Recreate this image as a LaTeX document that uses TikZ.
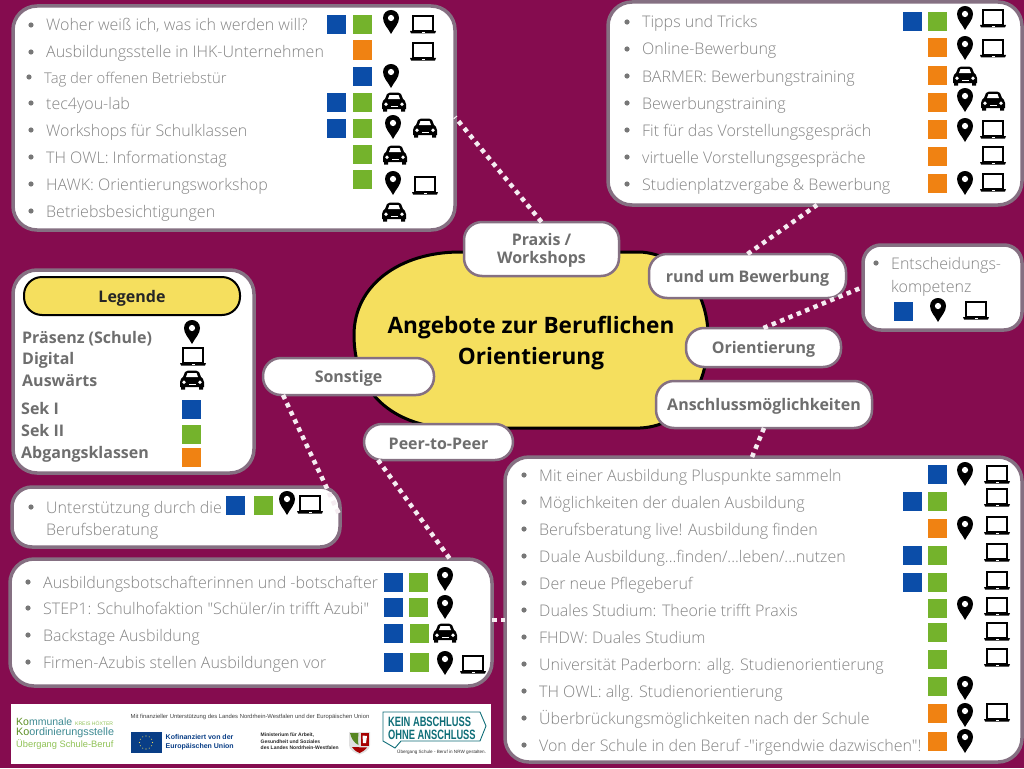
\documentclass[tikz,border=0pt]{standalone}
\usepackage{fontspec}
\setmainfont{Open Sans}
\newfontfamily\lightfont{Open Sans Light}
\newfontfamily\logofont{Liberation Sans}
\usetikzlibrary{calc}
\definecolor{bgc}{HTML}{850C4F}
\definecolor{edgec}{HTML}{857082}
\definecolor{yel}{HTML}{F5DF5E}
\definecolor{bluec}{HTML}{0B4DA8}
\definecolor{greenc}{HTML}{74B32C}
\definecolor{orangec}{HTML}{F08212}
\definecolor{txt}{HTML}{848484}
\definecolor{boldtxt}{HTML}{6E6E6E}
\definecolor{tealc}{HTML}{0F6E78}
\tikzset{
  x=1pt,y=-1pt,
  panel/.style={draw=edgec,line width=3.5pt,fill=white,rounded corners=#1,inner sep=0pt,outer sep=0pt,anchor=north west},
  panel/.default=24pt,
  pill/.style={draw=edgec,line width=2.5pt,fill=white,rounded corners=18pt,inner sep=0pt,outer sep=0pt,align=center,
     font=\fontsize{16}{18}\selectfont\bfseries,text=boldtxt},
  rowtext/.style={anchor=west,inner sep=0pt,text height=13.5pt,text depth=1.5pt,font=\lightfont\fontsize{16}{18}\selectfont,text=txt},
  legtext/.style={anchor=west,inner sep=0pt,text height=13.5pt,text depth=1.5pt,font=\fontsize{16}{18}\selectfont\bfseries,text=boldtxt},
  link/.style={draw=white!92!bgc,line width=4.5pt,dash pattern=on 4.5pt off 4.5pt},
  sq/.style={fill=#1,minimum size=19pt,inner sep=0pt,draw=none},
}
\newcommand{\PIN}[2]{\begin{scope}[shift={(#1,#2)}]
  \fill[black] (0,12) .. controls (-3,6) and (-8,2) .. (-8,-4) .. controls (-8,-9) and (-4,-12) .. (0,-12) .. controls (4,-12) and (8,-9) .. (8,-4) .. controls (8,2) and (3,6) .. (0,12) -- cycle;
  \fill[white] (0,-4) circle[radius=3.1];
\end{scope}}
\newcommand{\LAP}[2]{\begin{scope}[shift={(#1,#2)}]
  \draw[black,line width=1.3pt,fill=white] (-10,-9) rectangle (10,6);
  \fill[black] (-13,6) -- (13,6) -- (12,8.5) -- (-12,8.5) -- cycle;
  \fill[white] (-1.5,6.8) rectangle (1.5,7.8);
\end{scope}}
\newcommand{\CAR}[2]{\begin{scope}[shift={(#1,#2)}]
  \fill[black] (-12,2) .. controls (-12,-1) and (-10,-2) .. (-9,-3) -- (-7,-8) .. controls (-6,-9) and (-5,-9.5) .. (-4,-9.5) -- (4,-9.5) .. controls (5,-9.5) and (6,-9) .. (7,-8) -- (9,-3) .. controls (10,-2) and (12,-1) .. (12,2) -- (12,7) -- (11,7) -- (11,9.5) -- (7,9.5) -- (7,7) -- (-7,7) -- (-7,9.5) -- (-11,9.5) -- (-11,7) -- (-12,7) -- cycle;
  \fill[white] (-6,-3) -- (-4.5,-7) -- (4.5,-7) -- (6,-3) -- cycle;
  \fill[white] (-8,2.2) circle[radius=1.9] (8,2.2) circle[radius=1.9];
  \fill[white] (-3.5,4) rectangle (3.5,5.2);
\end{scope}}
\newcommand{\ROW}[4]{\fill[txt!90!black] (#1-15,#2) circle[radius=2.6];\node[rowtext] (#3) at (#1,#2) {#4};}
\newcommand{\BQ}[2]{\node[sq=bluec] at (#1,#2) {};}
\newcommand{\GQ}[2]{\node[sq=greenc] at (#1,#2) {};}
\newcommand{\OQ}[2]{\node[sq=orangec] at (#1,#2) {};}
\newcommand{\PL}[1]{\raisebox{-2pt}[\height][\depth]{#1}}
\begin{document}
\begin{tikzpicture}
\useasboundingbox (0,0) rectangle (1024,768);
\fill[bgc] (0,0) rectangle (1024,768);

% panels
\node[panel,minimum width=442pt,minimum height=224pt] (box1) at (13,6) {};
\node[panel,minimum width=414pt,minimum height=203pt] (box2) at (608,2) {};
\node[panel=18pt,minimum width=159pt,minimum height=85pt] (box3) at (863,245) {};
\node[panel,minimum width=241pt,minimum height=203pt] (legend) at (13,270) {};
\node[panel=20pt,minimum width=328pt,minimum height=60pt] (box4) at (12,487) {};
\node[panel,minimum width=482pt,minimum height=127pt] (box5) at (10,559) {};
\node[panel,minimum width=517pt,minimum height=305pt] (box6) at (505,457) {};

% central blob
\draw[black,line width=3pt,fill=yel] (460,252) -- (640,252)
  .. controls (680,254) and (706,290) .. (708,332)
  .. controls (710,375) and (690,426) .. (640,428)
  -- (445,428) .. controls (395,424) and (354,395) .. (354,335)
  .. controls (354,285) and (400,252) .. (460,252) -- cycle;
\node[inner sep=0pt,align=center,font=\fontsize{22.6}{31}\selectfont\bfseries,text=black] (title) at (531,343.5) {Angebote zur Beruflichen\\Orientierung};

% pills
\node[pill,minimum width=155pt,minimum height=54pt] (praxis) at (541.5,249) {\PL{\begin{tabular}{@{}c@{}}Praxis /\\Workshops\end{tabular}}};
\node[pill,minimum width=197pt,minimum height=44pt] (bewerb) at (747.5,276) {\PL{rund um Bewerbung}};
\node[pill,minimum width=155pt,minimum height=39pt] (orient) at (763.5,347.5) {\PL{Orientierung}};
\node[pill,minimum width=216pt,minimum height=47pt] (ansch) at (764,404.5) {\PL{Anschlussmöglichkeiten}};
\node[pill,minimum width=171pt,minimum height=37pt] (sonst) at (348.5,376.5) {\PL{Sonstige}};
\node[pill,minimum width=149pt,minimum height=36pt] (peer) at (438.5,442) {\PL{Peer-to-Peer}};

% connectors
\path[link] (praxis.north) -- (box1.east |- 0,117);
\path[link] (bewerb.north) -- (box2.south west -| 817,0);
\path[link] (orient.north) -- (box3.west |- 0,287);
\path[link] (ansch.south) -- (box6.north west -| 752,0);
\path[link] (sonst.south west -| 283,0) -- (box4.east |- 0,516);
\path[link] (peer.south west -| 378,0) -- (box5.north west -| 450,0);
\path[link] (box5.east |- 0,620) -- (box6.west |- 0,620);

% box 1
\ROW{46}{25}{a1}{Woher weiß ich, was ich werden will?}
\ROW{46}{52}{a2}{Ausbildungsstelle in IHK-Unternehmen}
\ROW{44}{77}{a3}{\fontsize{14.8}{18}\selectfont Tag der offenen Betriebstür}
\ROW{46}{103}{a4}{tec4you-lab}
\ROW{46}{130}{a5}{Workshops für Schulklassen}
\ROW{46}{157}{a6}{TH OWL: Informationstag}
\ROW{46}{184}{a7}{HAWK: Orientierungsworkshop}
\ROW{46}{211}{a8}{Betriebsbesichtigungen}
\BQ{336.5}{24.5}\GQ{362}{24.5}\PIN{391}{22}\LAP{423}{25}
\OQ{362}{50}\LAP{423}{52}
\BQ{362}{76}\PIN{391}{76}
\BQ{336.5}{102}\GQ{362}{102}\CAR{394}{102}
\BQ{336.5}{128}\GQ{362}{128}\PIN{393}{127}\CAR{425}{128}
\GQ{362}{154}\CAR{395}{155}
\GQ{362}{179}\PIN{393}{183}\LAP{425}{186}
\CAR{394}{212}

% box 2
\ROW{642}{22}{b1}{Tipps und Tricks}
\ROW{642}{49}{b2}{Online-Bewerbung}
\ROW{642}{76}{b3}{BARMER: Bewerbungstraining}
\ROW{642}{103}{b4}{Bewerbungstraining}
\ROW{642}{130}{b5}{Fit für das Vorstellungsgespräch}
\ROW{642}{157}{b6}{virtuelle Vorstellungsgespräche}
\ROW{642}{184}{b7}{Studienplatzvergabe \& Bewerbung}
\BQ{912}{22}\GQ{937}{22}\PIN{965}{18}\LAP{993}{19}
\OQ{937}{48}\PIN{965}{48}\LAP{993}{49}
\OQ{937}{75}\CAR{965}{76}
\OQ{937}{102}\PIN{965}{100}\CAR{993}{101}
\OQ{937}{129}\PIN{965}{130}\LAP{993}{130}
\OQ{937}{156}\LAP{993}{156}
\OQ{937}{183}\PIN{965}{183}\LAP{993}{183}

% box 3
\ROW{891}{263}{c1}{Entscheidungs-}
\node[rowtext] (c2) at (891,286) {kompetenz};
\BQ{903}{311}\PIN{938}{310}\LAP{976}{311}

% legend
\node[draw=black,line width=2pt,fill=yel,rounded corners=18pt,minimum width=216pt,minimum height=38pt,inner sep=0pt,font=\fontsize{16}{18}\selectfont\bfseries,text=black!85] (legtitle) at (132,296) {\PL{Legende}};
\node[legtext] (l1) at (22,337) {Präsenz (Schule)};
\node[legtext] (l2) at (22,358) {Digital};
\node[legtext] (l3) at (22,380) {Auswärts};
\node[legtext] (l4) at (21,408) {Sek I};
\node[legtext] (l5) at (21,430) {Sek II};
\node[legtext] (l6) at (21,452) {Abgangsklassen};
\PIN{192}{332}\LAP{193}{357}\CAR{192}{380}
\BQ{191}{409}\GQ{191}{434}\OQ{191}{457}

% box 4
\ROW{46}{507}{d1}{Unterstützung durch die}
\node[rowtext] (d2) at (46,529) {Berufsberatung};
\BQ{235}{505}\GQ{263}{505}\PIN{287}{503}\LAP{310}{505}

% box 5
\ROW{43}{582}{e1}{Ausbildungsbotschafterinnen und -botschafter}
\ROW{43}{608}{e2}{STEP1: Schulhofaktion "Schüler/in trifft Azubi"}
\ROW{43}{635}{e3}{Backstage Ausbildung}
\ROW{43}{662}{e4}{Firmen-Azubis stellen Ausbildungen vor}
\BQ{393}{582}\GQ{418}{582}\PIN{445}{579}
\BQ{393}{607}\GQ{418}{607}\PIN{445}{607}
\BQ{393}{633}\GQ{419}{633}\CAR{445}{633}
\BQ{393}{662}\GQ{419}{662}\PIN{445}{663}\LAP{473}{665}

% box 6
\ROW{539}{475}{f1}{Mit einer Ausbildung Pluspunkte sammeln}
\ROW{539}{502}{f2}{Möglichkeiten der dualen Ausbildung}
\ROW{539}{529}{f3}{Berufsberatung live! Ausbildung finden}
\ROW{539}{556}{f4}{Duale Ausbildung...finden/...leben/...nutzen}
\ROW{539}{583}{f5}{Der neue Pflegeberuf}
\ROW{539}{610}{f6}{Duales Studium: Theorie trifft Praxis}
\ROW{539}{637}{f7}{FHDW: Duales Studium}
\ROW{539}{664}{f8}{Universität Paderborn: allg. Studienorientierung}
\ROW{539}{691}{f9}{TH OWL: allg. Studienorientierung}
\ROW{539}{718}{f10}{Überbrückungsmöglichkeiten nach der Schule}
\ROW{539}{745}{f11}{Von der Schule in den Beruf -"irgendwie dazwischen"!}
\BQ{937}{474}\PIN{965}{474}\LAP{997}{475}
\BQ{912}{501}\GQ{937}{501}\LAP{997}{498}
\OQ{937}{528}\PIN{965}{528}\LAP{997}{526}
\BQ{912}{555}\GQ{937}{555}\LAP{997}{553}
\BQ{912}{582}\GQ{937}{582}\LAP{997}{581}
\GQ{937}{608}\PIN{965}{608}\LAP{997}{607}
\GQ{937}{632}\LAP{997}{632}
\GQ{937}{659}\LAP{997}{658}
\GQ{937}{686}\PIN{965}{688}
\OQ{937}{713}\PIN{965}{715}\LAP{997}{713}
\OQ{937}{741}\PIN{965}{741}

% footer
\node[fill=white,minimum width=480pt,minimum height=60pt,inner sep=0pt,outer sep=0pt,anchor=north west] (footer) at (11,704) {};
\node[anchor=west,inner sep=0pt,font=\logofont\fontsize{10.5}{12}\selectfont] (kk1) at (16,722) {{\color{greenc!80!black}Ko}{\color{tealc!80}mmunale} {\fontsize{5.1}{6}\selectfont\color{greenc!80}KREIS HÖXTER}};
\node[anchor=west,inner sep=0pt,font=\logofont\fontsize{10.8}{12}\selectfont] (kk2) at (16,733) {{\color{greenc!80!black}Ko}{\color{tealc!80}ordinierungsstelle}};
\node[anchor=west,inner sep=0pt,font=\logofont\fontsize{9.3}{12}\selectfont,text=greenc!80] (kk3) at (16,745) {Übergang Schule-Beruf};
\node[anchor=west,inner sep=0pt,font=\logofont\fontsize{5.86}{7}\selectfont,text=black!75] (fund) at (130.5,717) {Mit finanzieller Unterstützung des Landes Nordrhein-Westfalen und der Europäischen Union};
\node[fill=bluec!80!black,minimum width=31pt,minimum height=21pt,inner sep=0pt] (euflag) at (146,742.5) {};
\foreach \a in {0,30,...,330}{\fill[yel] ($(euflag)+(\a:6.5)$) circle[radius=0.6];}
\node[anchor=west,inner sep=0pt,align=left,font=\logofont\bfseries\fontsize{7}{8.8}\selectfont,text=bluec!80!black] (eutext) at (165.5,742.5) {Kofinanziert von der\\Europäischen Union};
\node[anchor=west,inner sep=0pt,align=left,font=\logofont\fontsize{5}{6.6}\selectfont,text=black!85] (min) at (260.5,741.5) {\textbf{Ministerium für Arbeit,}\\\textbf{Gesundheit und Soziales}\\\textbf{des Landes Nordrhein-Westfalen}};
% crest
\fill[white!88!black] (349,732) -- (370,732) -- (370,745) .. controls (370,750) and (364,753) .. (359.5,754.5) .. controls (355,753) and (349,750) .. (349,745) -- cycle;
\fill[greenc!75!black] (350,733) -- (358.5,733) .. controls (358,738) and (358,742) .. (358.5,745) .. controls (354,743) and (351,738) .. (350,733) -- cycle;
\fill[red!65!black] (360.5,733) rectangle (369,746);
\fill[white] (362.5,735.5) -- (367,736) -- (366,743) -- (363,743) -- cycle;
\fill[red!65!black] (352,747) .. controls (355,751) and (357,752) .. (359.5,753) .. controls (362,752) and (364,751) .. (367,747.5) -- cycle;
% slogan
\draw[tealc,line width=0.9pt] (383,712) -- (480,712) -- (486,726) -- (480,741) -- (401,741) -- (395,748) -- (383,741) -- cycle;
\node[inner sep=0pt,anchor=west,font=\logofont\bfseries\fontsize{13.5}{12.7}\selectfont,text=tealc] (kein1) at (388,722) {\scalebox{.69}[1]{KEIN ABSCHLUSS}};
\node[inner sep=0pt,anchor=west,font=\logofont\bfseries\fontsize{13.5}{12.7}\selectfont,text=tealc] (kein2) at (388,735) {\scalebox{.69}[1]{OHNE ANSCHLUSS}};
\node[inner sep=0pt,anchor=west,font=\logofont\fontsize{4.6}{5}\selectfont,text=black!80] (nrw) at (397,752) {Übergang Schule - Beruf in NRW gestalten.};
\end{tikzpicture}
\end{document}
